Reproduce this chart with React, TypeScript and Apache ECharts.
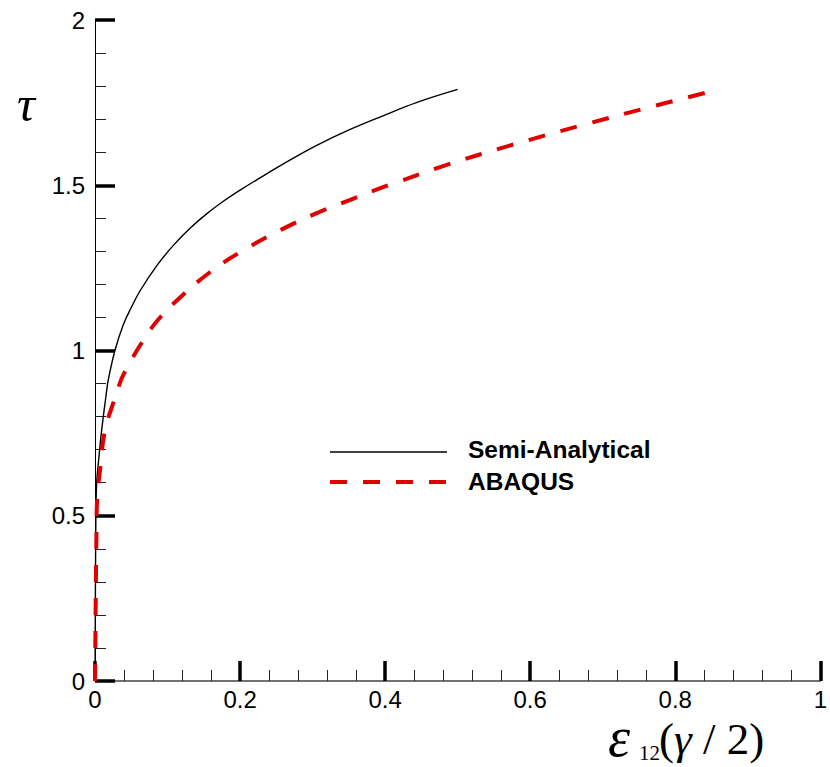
import React, { useEffect, useRef } from "react";
import * as echarts from "echarts";

const semiX = [0, 0.0012, 0.0023, 0.0046, 0.0092, 0.015, 0.0183, 0.0275, 0.039, 0.05, 0.062, 0.085, 0.108, 0.131, 0.153, 0.176, 0.2, 0.222, 0.268, 0.305, 0.351, 0.397, 0.443, 0.5];
const semiY = [0, 0.5, 0.6, 0.659, 0.759, 0.86, 0.911, 1.0, 1.078, 1.13, 1.18, 1.256, 1.318, 1.37, 1.412, 1.45, 1.485, 1.515, 1.575, 1.62, 1.668, 1.71, 1.75, 1.79];

const abaqusX = [0, 0.002, 0.003, 0.0069, 0.0138, 0.025, 0.0367, 0.0436, 0.062, 0.087, 0.121, 0.158, 0.199, 0.259, 0.305, 0.351, 0.397, 0.42, 0.484, 0.575, 0.667, 0.759, 0.844];
const abaqusY = [0, 0.45, 0.55, 0.638, 0.759, 0.84, 0.915, 0.945, 1.015, 1.093, 1.168, 1.236, 1.296, 1.368, 1.415, 1.455, 1.494, 1.512, 1.561, 1.622, 1.679, 1.733, 1.781];

const seriesNames = ["Semi-Analytical", "ABAQUS"];
const xTicks = { min: 0, max: 1, interval: 0.2 };
const yTicks = { min: 0, max: 2, interval: 0.5 };

const zip = (xs: number[], ys: number[]) => xs.map((x, i) => [x, ys[i]]);

export default function App() {
  const ref = useRef<HTMLDivElement>(null);
  useEffect(() => {
    if (!ref.current) return;
    const chart = echarts.init(ref.current, undefined, { renderer: "svg" });
    const labelFont = {
      color: "#000",
      fontFamily: "Liberation Sans, Arial, sans-serif",
      fontSize: 24,
    };
    const serif = "'Liberation Serif', 'Times New Roman', serif";
    chart.setOption({
      animation: false,
      backgroundColor: "#fff",
      grid: { left: 95, right: 8, top: 20, bottom: 86 },
      xAxis: {
        type: "value",
        min: xTicks.min,
        max: xTicks.max,
        interval: xTicks.interval,
        axisLine: { show: true, onZero: false, lineStyle: { color: "#444", width: 1.5 } },
        axisTick: { show: true, inside: true, length: 20, lineStyle: { color: "#000", width: 3.5 } },
        minorTick: { show: true, splitNumber: 5, length: 11, lineStyle: { color: "#222", width: 1 } },
        splitLine: { show: false },
        axisLabel: { ...labelFont, margin: 6, formatter: (v: number) => String(+v.toFixed(2)) },
      },
      yAxis: {
        type: "value",
        min: yTicks.min,
        max: yTicks.max,
        interval: yTicks.interval,
        axisLine: { show: true, onZero: false, lineStyle: { color: "#000", width: 1 } },
        axisTick: { show: true, inside: true, length: 20, lineStyle: { color: "#000", width: 3.5 } },
        minorTick: { show: true, splitNumber: 5, length: 11, lineStyle: { color: "#222", width: 1 } },
        splitLine: { show: false },
        axisLabel: { ...labelFont, margin: 10, formatter: (v: number) => String(+v.toFixed(2)) },
      },
      series: [
        {
          name: seriesNames[0],
          type: "line",
          data: zip(semiX, semiY),
          showSymbol: false,
          smooth: 0.4,
          lineStyle: { color: "#000", width: 1.4 },
          z: 3,
        },
        {
          name: seriesNames[1],
          type: "line",
          data: zip(abaqusX, abaqusY),
          showSymbol: false,
          smooth: 0.4,
          lineStyle: { color: "#e00000", width: 4, type: [17, 16] },
          z: 4,
        },
      ],
      graphic: [
        { type: "line", shape: { x1: 330, y1: 452, x2: 447, y2: 452 }, style: { stroke: "#000", lineWidth: 1.4 } },
        { type: "line", shape: { x1: 330, y1: 482, x2: 448, y2: 482 }, style: { stroke: "#e00000", lineWidth: 4, lineDash: [17, 16] } },
        { type: "text", x: 468, y: 449, style: { text: seriesNames[0], fill: "#000", font: "bold 24.5px 'Liberation Sans', Arial, sans-serif", textAlign: "left", textVerticalAlign: "middle" } },
        { type: "text", x: 468, y: 481, style: { text: seriesNames[1], fill: "#000", font: "bold 24.5px 'Liberation Sans', Arial, sans-serif", textAlign: "left", textVerticalAlign: "middle" } },
        { type: "text", x: 26, y: 104, style: { text: "τ", fill: "#000", font: `italic 50px ${serif}`, textAlign: "center", textVerticalAlign: "middle" } },
        { type: "text", x: 608, y: 737, style: { text: "ε", fill: "#000", font: `italic 56px ${serif}`, textAlign: "left", textVerticalAlign: "middle" } },
        { type: "text", x: 639, y: 753, style: { text: "12", fill: "#000", font: `21px ${serif}`, textAlign: "left", textVerticalAlign: "middle" } },
        {
          type: "text",
          x: 659,
          y: 739,
          style: {
            text: "({g|γ} / 2)",
            fill: "#000",
            font: `45px ${serif}`,
            textAlign: "left",
            textVerticalAlign: "middle",
            rich: { g: { fontStyle: "italic", fontSize: 45, fontFamily: serif } },
          },
        },
      ],
    });
    return () => chart.dispose();
  }, []);
  return <div ref={ref} style={{ position: "fixed", left: 0, top: 0, width: 830, height: 767 }} />;
}
